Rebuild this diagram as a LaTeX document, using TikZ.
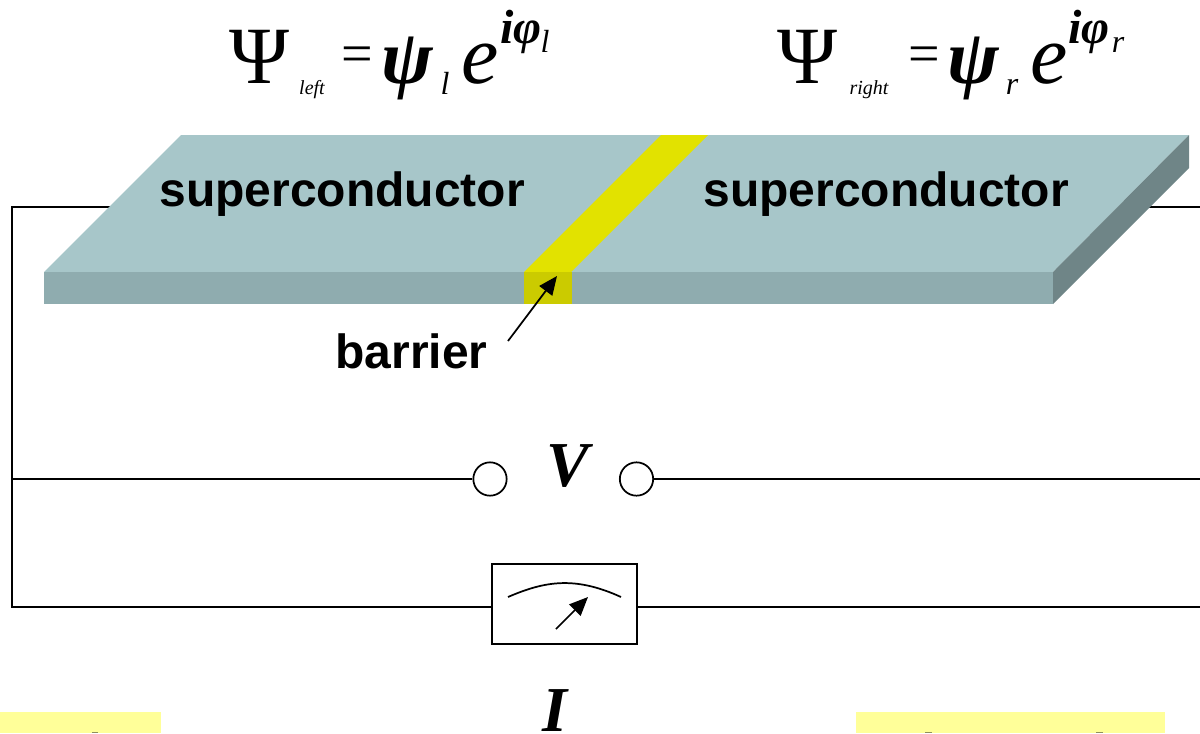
\documentclass[tikz,border=0pt]{standalone}
\usepackage{fontspec}
\setmainfont{Liberation Serif}
\setsansfont{Liberation Sans}
\usetikzlibrary{arrows.meta}
\definecolor{slabtop}{HTML}{A7C6C9}
\definecolor{slabfront}{HTML}{8FACAF}
\definecolor{slabside}{HTML}{6F8587}
\definecolor{bartop}{HTML}{E2E200}
\definecolor{barfront}{HTML}{CBCB00}
\definecolor{note}{HTML}{FFFF99}
\definecolor{notemark}{HTML}{8F8F5A}
\tikzset{
  wire/.style={draw=black,line width=1.3pt},
  terminal/.style={circle,draw=black,fill=white,line width=1.3pt,minimum size=25pt,inner sep=0pt},
  meterbox/.style={rectangle,draw=black,fill=white,line width=1.3pt,minimum width=108.5pt,minimum height=60pt,inner sep=0pt},
  labelbf/.style={font=\sffamily\bfseries\fontsize{36}{36}\selectfont,text=black,inner sep=0pt,anchor=base},
  varlab/.style={font=\itshape\bfseries\fontsize{48}{48}\selectfont,text=black,inner sep=0pt,anchor=base},
  big/.style={font=\fontsize{61}{61}\selectfont,inner sep=0pt,anchor=base},
  bigit/.style={font=\itshape\bfseries\fontsize{58}{58}\selectfont,inner sep=0pt,anchor=base},
  bige/.style={font=\itshape\fontsize{63}{63}\selectfont,inner sep=0pt,anchor=base},
  sym/.style={font=\fontsize{42}{42}\selectfont,inner sep=0pt,anchor=base},
  expo/.style={font=\itshape\bfseries\fontsize{36}{36}\selectfont,inner sep=0pt,anchor=base},
  subl/.style={font=\itshape\fontsize{24}{24}\selectfont,inner sep=0pt,anchor=base},
  tiny/.style={font=\itshape\fontsize{15}{15}\selectfont,inner sep=0pt,anchor=base},
  pointer/.style={draw=black,line width=1.3pt,-{Triangle[length=14pt,width=12pt]}}
}
\begin{document}
\begin{tikzpicture}[x=0.75pt,y=-0.75pt]
\useasboundingbox (0,0) rectangle (1200,733);
% wires
\coordinate (wl) at (12,207);
\coordinate (wsl) at (120,207);
\coordinate (wsr) at (1130,207);
\coordinate (wr) at (1200,207);
\coordinate (vl) at (12,479);
\coordinate (vr) at (1200,479);
\coordinate (il) at (12,607);
\coordinate (ir) at (1200,607);
\node[terminal] (t1) at (490,479) {};
\node[terminal] (t2) at (636.5,479) {};
\node[meterbox] (m) at (564.5,604) {};
\draw[wire] (wsl) -- (wl) -- (il) -- (m.west |- il);
\draw[wire] (wsr) -- (wr);
\draw[wire] (vl) -- (t1.west);
\draw[wire] (t2.east) -- (vr);
\draw[wire] (m.east |- ir) -- (ir);
\draw[wire] (508,597) .. controls (545,581) and (575,576) .. (621,597);
\coordinate (ms) at (556,629);
\coordinate (me) at (588,597);
\draw[pointer] (ms) -- (me);
% slab
\fill[slabtop] (44,272) -- (181,135) -- (1189,135) -- (1053,272) -- cycle;
\fill[slabfront] (44,272) rectangle (1053,304);
\fill[slabside] (1053,272) -- (1189,135) -- (1189,168) -- (1053,304) -- cycle;
\fill[bartop] (524,272) -- (661,135) -- (708,135) -- (571,272) -- cycle;
\fill[barfront] (524,272) rectangle (572,304);
% texts
\node[labelbf] (s1) at (342,206) {superconductor};
\node[labelbf] (s2) at (886,206) {superconductor};
\node[labelbf] (b) at (411.5,368) {barrier};
\coordinate (bs) at (508,341);
\coordinate (be) at (557,276);
\draw[pointer] (bs) -- (be);
\node[varlab] (V) at (568,486) {V};
\node[varlab] (I) at (555,731) {I};
% equations
\node[big] (p1) at (260,83) {Ψ};
\node[tiny] at (312,94) {left};
\node[sym] at (357,72) {=};
\node[bigit] (q1) at (407,83) {ψ};
\node[subl] at (445,94) {l};
\node[bige] (e1) at (480,83) {e};
\node[expo] at (507,43) {i};
\node[expo] at (528,43) {φ};
\node[subl] at (545,52) {l};
\node[big] (p2) at (807.5,83) {Ψ};
\node[tiny] at (869,94) {right};
\node[sym] at (924,72) {=};
\node[bigit] (q2) at (973,83) {ψ};
\node[subl] at (1012,94) {r};
\node[bige] (e2) at (1049,83) {e};
\node[expo] at (1075,43) {i};
\node[expo] at (1096,43) {φ};
\node[subl] at (1118,52) {r};
% notes
\fill[note] (0,712) rectangle (161,733);
\fill[note] (856,712) rectangle (1165,733);
\fill[notemark] (92,731.5) rectangle (98,733);
\fill[notemark] (925,731.5) rectangle (932,733);
\fill[notemark] (1096,731.5) rectangle (1103,733);
\end{tikzpicture}
\end{document}
